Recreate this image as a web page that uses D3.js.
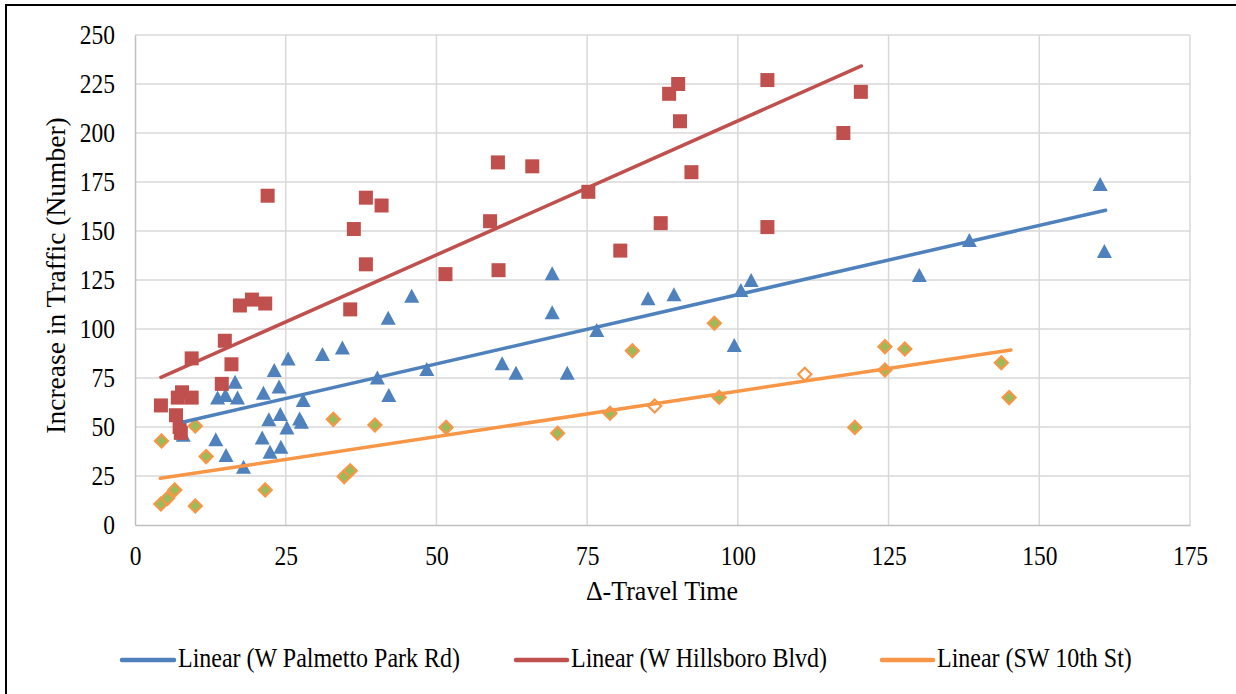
<!DOCTYPE html>
<html>
<head>
<meta charset="utf-8">
<script src="https://cdn.jsdelivr.net/npm/d3@7"></script>
</head>
<body style="margin:0">
<svg id="chart" width="1236" height="694" font-family="Liberation Serif, Times New Roman, serif"></svg>
<script>
// ---------- data ----------
const xTicks = [0, 25, 50, 75, 100, 125, 150, 175];
const yTicks = [0, 25, 50, 75, 100, 125, 150, 175, 200, 225, 250];

const seriesNames = ["W Palmetto Park Rd", "W Hillsboro Blvd", "SW 10th St"];
const seriesColors = ["#4F81BD", "#C0504D", "#F79646"];

const palmettoX = [8.0, 13.4, 15.1, 18.0, 13.7, 15.0, 16.6, 17.0, 21.3, 23.1, 23.9, 25.4, 31.1, 27.9, 22.2, 24.1, 25.2, 27.3, 27.6, 21.1, 22.4, 24.2, 34.4, 42.0, 45.9, 40.2, 42.1, 48.4, 69.2, 69.2, 60.9, 63.2, 71.7, 76.6, 85.1, 89.4, 100.5, 102.2, 99.4, 130.1, 138.4, 160.1, 160.8];
const palmettoY = [46, 43.7, 35.7, 29.7, 65.1, 66.3, 73.1, 65.1, 67.5, 79.1, 70.6, 85, 87.2, 63.8, 53.9, 56.6, 49.8, 54.4, 52.7, 44.7, 37.4, 39.9, 90.6, 105.8, 117, 75.3, 66.3, 79.6, 128.4, 108.5, 82.5, 77.7, 77.7, 99.5, 115.7, 117.7, 119.9, 125, 91.8, 127.6, 145.4, 174, 139.8];

const hillsboroX = [4.3, 6.8, 7.1, 7.8, 9.4, 7.4, 7.6, 9.4, 14.9, 16.0, 14.4, 17.4, 19.4, 21.6, 22.0, 38.3, 40.9, 36.3, 38.3, 35.7, 51.5, 60.2, 65.9, 58.9, 60.3, 75.2, 80.5, 87.2, 92.3, 90.4, 88.6, 90.1, 104.9, 104.9, 117.5, 120.4];
const hillsboroY = [61, 56, 65, 67.7, 65, 50, 47, 85, 94, 82, 72, 112, 115, 113, 168, 167, 163, 151, 133, 110, 128, 185, 183, 155, 130, 170, 140, 154, 180, 206, 220, 225, 227, 152, 200, 221];

const sw10X = [4.4, 10.0, 11.8, 4.3, 5.4, 6.6, 10.0, 21.6, 32.9, 39.8, 51.6, 34.7, 35.7, 70.1, 78.8, 82.5, 86.2, 96.1, 96.9, 111.1, 119.4, 124.4, 124.4, 127.7, 143.7, 145.0];
const sw10Y = [42.9, 50.5, 34.9, 10.7, 13.6, 17.9, 9.7, 17.9, 53.9, 51, 49.8, 24.7, 27.7, 46.8, 57, 88.9, 60.7, 102.9, 65.2, 76.9, 49.8, 91, 79.1, 89.8, 82.8, 65];
const sw10Hollow = [0, 0, 0, 0, 0, 0, 0, 0, 0, 0, 0, 0, 0, 0, 0, 0, 1, 0, 0, 1, 0, 0, 0, 0, 0, 0];

// linear trendline endpoints (Palmetto, Hillsboro, SW 10th)
const trendX0 = [8.2, 4.3, 4.2];
const trendY0 = [52.7, 75.3, 23.8];
const trendX1 = [161.0, 120.5, 145.3];
const trendY1 = [160.6, 234.2, 89.3];

const xTitle = "Δ-Travel Time";
const yTitle = "Increase in Traffic (Number)";

// ---------- layout ----------
const FONT = "Liberation Serif, Times New Roman, serif";
const svg = d3.select("#chart");
const plot = { left: 135, top: 35, right: 1190, bottom: 525 };

const x = d3.scaleLinear().domain([0, 175]).range([plot.left, plot.right]);
const y = d3.scaleLinear().domain([0, 250]).range([plot.bottom, plot.top]);

// outer border
svg.append("rect")
  .attr("x", 6).attr("y", 5).attr("width", 1240).attr("height", 700)
  .attr("fill", "none").attr("stroke", "#000").attr("stroke-width", 2);

// gridlines
const grid = svg.append("g");
grid.selectAll("line.h").data(yTicks.filter(d => d > 0)).join("line")
  .attr("x1", plot.left).attr("x2", plot.right)
  .attr("y1", d => y(d)).attr("y2", d => y(d))
  .attr("stroke", "#D9D9D9").attr("stroke-width", 1.5);
grid.selectAll("line.v").data(xTicks.filter(d => d > 0)).join("line")
  .attr("y1", plot.top).attr("y2", plot.bottom)
  .attr("x1", d => x(d)).attr("x2", d => x(d))
  .attr("stroke", "#D9D9D9").attr("stroke-width", 1.5);

// axes via d3
const xAxis = d3.axisBottom(x).tickValues(xTicks).tickSize(0).tickPadding(19);
const yAxis = d3.axisLeft(y).tickValues(yTicks).tickSize(0).tickPadding(20);

const gx = svg.append("g").attr("transform", `translate(0,${plot.bottom})`).call(xAxis);
const gy = svg.append("g").attr("transform", `translate(${plot.left},0)`).call(yAxis);
[gx, gy].forEach(g => {
  g.attr("font-family", FONT).attr("font-size", 23.5);
  g.select(".domain").attr("stroke", "#BFBFBF").attr("stroke-width", 1.5);
  g.selectAll("text").attr("font-family", FONT).attr("fill", "#000")
    .attr("transform", "scale(1,1.12)");
});

// markers
const marks = svg.append("g");
const triW = 15, triH = 14, sq = 14, dia = 6.5;

// Palmetto triangles
marks.selectAll("path.tri").data(d3.range(palmettoX.length)).join("path")
  .attr("d", i => {
    const cx = x(palmettoX[i]), cy = y(palmettoY[i]);
    return `M${cx},${cy - triH / 2}L${cx + triW / 2},${cy + triH / 2}L${cx - triW / 2},${cy + triH / 2}Z`;
  })
  .attr("fill", seriesColors[0]);

// Hillsboro squares
marks.selectAll("rect.sq").data(d3.range(hillsboroX.length)).join("rect")
  .attr("x", i => x(hillsboroX[i]) - sq / 2)
  .attr("y", i => y(hillsboroY[i]) - sq / 2)
  .attr("width", sq).attr("height", sq)
  .attr("fill", seriesColors[1]);

// SW 10th diamonds
marks.selectAll("path.dia").data(d3.range(sw10X.length)).join("path")
  .attr("d", i => {
    const cx = x(sw10X[i]), cy = y(sw10Y[i]);
    return `M${cx},${cy - dia}L${cx + dia},${cy}L${cx},${cy + dia}L${cx - dia},${cy}Z`;
  })
  .attr("fill", i => sw10Hollow[i] ? "#FFFFFF" : "#9BBB59")
  .attr("stroke", seriesColors[2]).attr("stroke-width", 2.2);

// linear trendlines
const line = d3.line().x(d => x(d[0])).y(d => y(d[1]));
seriesNames.forEach((_, k) => {
  svg.append("path").attr("d", line([[trendX0[k], trendY0[k]], [trendX1[k], trendY1[k]]]))
    .attr("fill", "none").attr("stroke", seriesColors[k])
    .attr("stroke-width", 3.5).attr("stroke-linecap", "round");
});

// axis titles
svg.append("text").attr("transform", "translate(662,600) scale(1,1.08)").attr("text-anchor", "middle")
  .attr("font-family", FONT).attr("font-size", 26).attr("fill", "#000").text(xTitle);
svg.append("text").attr("transform", "translate(65,275.5) rotate(-90)")
  .attr("text-anchor", "middle").attr("font-family", FONT).attr("font-size", 27.5)
  .attr("fill", "#000").text(yTitle);

// legend
const legendLineX = [120, 514, 880];
const legendTextX = [178, 571, 937];
const legend = svg.append("g");
seriesNames.forEach((name, k) => {
  legend.append("line").attr("x1", legendLineX[k] + 2).attr("x2", legendTextX[k] - 4)
    .attr("y1", 660).attr("y2", 660)
    .attr("stroke", seriesColors[k]).attr("stroke-width", 4.5).attr("stroke-linecap", "round");
  legend.append("text").attr("transform", `translate(${legendTextX[k]},667) scale(1,1.1)`)
    .attr("font-family", FONT).attr("font-size", 24).attr("fill", "#000")
    .text(`Linear (${name})`);
});
</script>
</body>
</html>
